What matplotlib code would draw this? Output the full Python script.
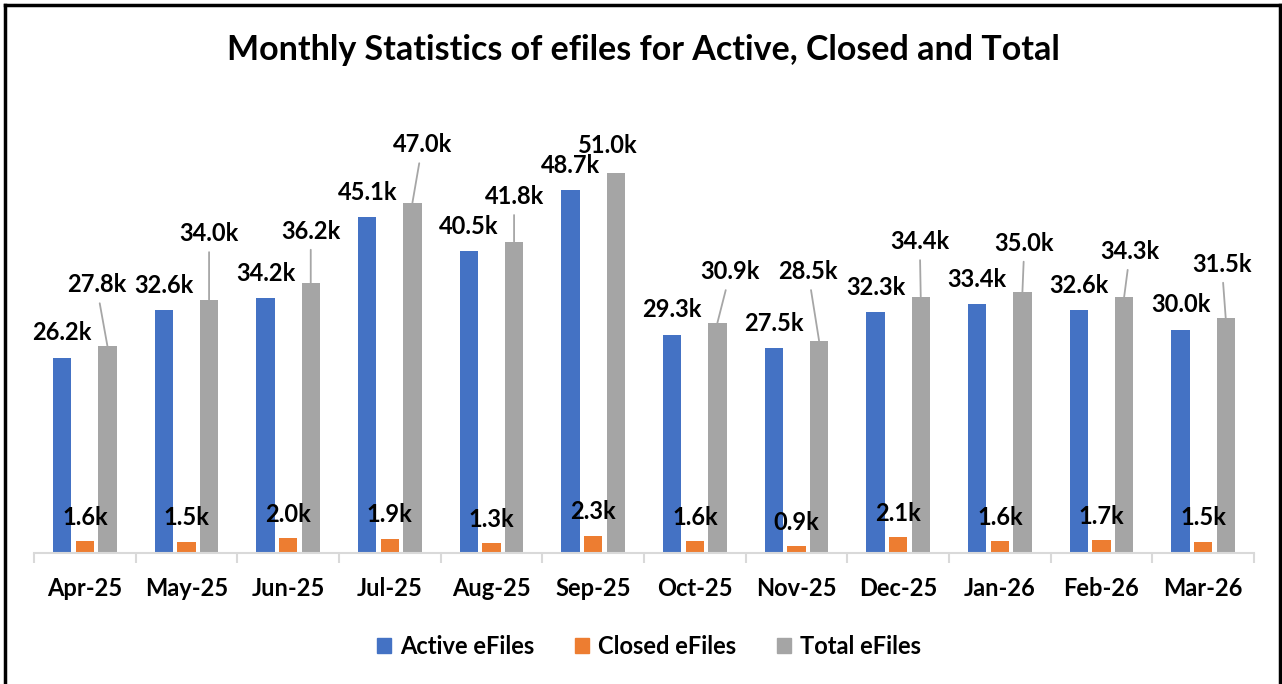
import matplotlib.pyplot as plt
import numpy as np
from matplotlib.patches import Patch
from matplotlib.lines import Line2D

months = ['Apr-25', 'May-25', 'Jun-25', 'Jul-25', 'Aug-25', 'Sep-25',
          'Oct-25', 'Nov-25', 'Dec-25', 'Jan-26', 'Feb-26', 'Mar-26']
active = [26.2, 32.6, 34.2, 45.1, 40.5, 48.7, 29.3, 27.5, 32.3, 33.4, 32.6, 30.0]
closed = [1.6, 1.5, 2.0, 1.9, 1.3, 2.3, 1.6, 0.9, 2.1, 1.6, 1.7, 1.5]
total = [27.8, 34.0, 36.2, 47.0, 41.8, 51.0, 30.9, 28.5, 34.4, 35.0, 34.3, 31.5]

# hand-placed offsets (pixels) of the total labels, as in the original chart
total_offsets = [(-11, 61), (0, 66), (0, 52), (10, 58), (0, 45), (-8, 28),
                 (13, 51), (-11, 69), (-1, 55), (2, 49), (6, 46), (-4, 54)]

BLUE, ORANGE, GRAY = '#4472C4', '#ED7D31', '#A5A5A5'

plt.rcParams['font.family'] = 'Lato'
plt.rcParams['font.weight'] = 'bold'

fig = plt.figure(figsize=(12.82, 6.84), dpi=100)
ax = fig.add_axes([34 / 1282, 131 / 684, 1220 / 1282, 447 / 684])

x = np.arange(len(months))
w = 0.18
off = 0.222
ax.bar(x - off, active, w, color=BLUE, label='Active eFiles')
ax.bar(x, closed, w, color=ORANGE, label='Closed eFiles')
ax.bar(x + off, total, w, color=GRAY, label='Total eFiles')

lbl = dict(ha='center', va='center', fontsize=17, fontweight='bold',
           textcoords='offset pixels', color='black')
for i in range(len(months)):
    ax.annotate(f'{active[i]:.1f}k', (x[i] - off, active[i]), xytext=(0, 25), **lbl)
    ax.annotate(f'{closed[i]:.1f}k', (x[i], closed[i]), xytext=(0, 24), **lbl)
    dx, dy = total_offsets[i]
    arrow = None
    if i != 5:  # Sep label sits right on the bar, no leader line
        arrow = dict(arrowstyle='-', color='#A6A6A6', lw=1.3, shrinkA=3, shrinkB=0)
    ax.annotate(f'{total[i]:.1f}k', (x[i] + off, total[i]), xytext=(dx, dy),
                arrowprops=arrow, **lbl)

ax.set_xlim(-0.5, len(months) - 0.5)
ax.set_ylim(0, 60)
ax.set_yticks([])
for s in ['top', 'right', 'left']:
    ax.spines[s].set_visible(False)
ax.spines['bottom'].set_color('#D9D9D9')
ax.spines['bottom'].set_linewidth(1.5)

ax.set_xticks(x)
ax.set_xticklabels(months, fontsize=17, fontweight='bold')
ax.tick_params(axis='x', which='major', length=0, pad=17)
ax.set_xticks(np.arange(-0.5, len(months), 1), minor=True)
ax.tick_params(axis='x', which='minor', length=7, color='#D9D9D9', width=1.5)

fig.text(643 / 1282, 1 - 50 / 684, 'Monthly Statistics of efiles for Active, Closed and Total',
         ha='center', va='center', fontsize=24.5, fontweight='bold')

handles = [Patch(color=BLUE), Patch(color=ORANGE), Patch(color=GRAY)]
leg = fig.legend(handles, ['Active eFiles', 'Closed eFiles', 'Total eFiles'],
                 loc='center', bbox_to_anchor=(649 / 1282, 1 - 646 / 684), ncol=3,
                 frameon=False, handlelength=0.6, handleheight=0.6,
                 handletextpad=0.4, columnspacing=1.7, fontsize=17)
for t in leg.get_texts():
    t.set_fontweight('bold')

# outer chart border (left, top, right)
for xs, ys in [([5, 5], [0, 679]), ([5, 1280], [679, 679]), ([1280, 1280], [0, 679])]:
    fig.add_artist(Line2D([v / 1282 for v in xs], [v / 684 for v in ys],
                          color='black', lw=2.5))

fig.savefig('out.png', dpi=100)
